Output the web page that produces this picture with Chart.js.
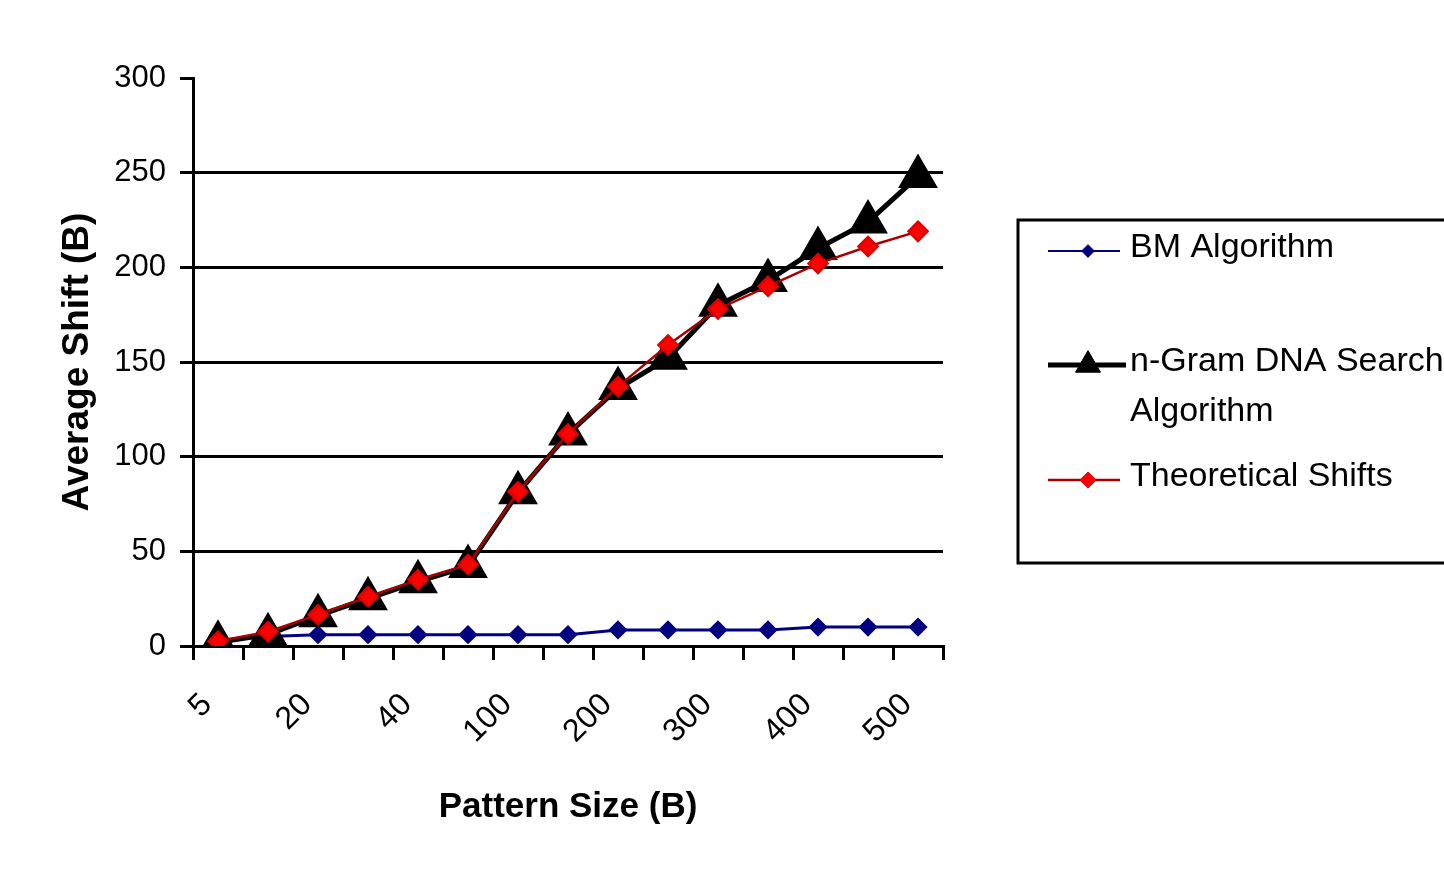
<!DOCTYPE html>
<html>
<head>
<meta charset="utf-8">
<script src="https://cdn.jsdelivr.net/npm/chart.js@4/dist/chart.umd.min.js"></script>
<style>
  html, body { margin: 0; padding: 0; background: #ffffff; }
  #wrap { position: relative; width: 1444px; height: 875px; }
</style>
</head>
<body>
<div id="wrap"><canvas id="c"></canvas></div>
<script>
// ---- data ----
const patternSizes = ['5', '10', '20', '30', '40', '50', '100', '150', '200', '250', '300', '350', '400', '450', '500'];
const bmAlgorithm = [3, 5, 6, 6, 6, 6, 6, 6, 8.5, 8.5, 8.5, 8.5, 10, 10, 10];
const nGramDNA = [2, 6, 16, 25, 34, 42, 81, 112, 136, 152, 180, 193, 210, 224, 248];
const theoreticalShifts = [2.5, 7.5, 16.5, 26, 35, 43, 81.5, 112, 137, 159, 178, 190, 202, 211, 219];
const seriesNames = ['BM Algorithm', 'n-Gram DNA Search Algorithm', 'Theoretical Shifts'];
const yTicks = [0, 50, 100, 150, 200, 250, 300];
const xTitle = 'Pattern Size (B)';
const yTitle = 'Average Shift (B)';

const FONT = '"Liberation Sans", Arial, sans-serif';

const boxLegend = {
  id: 'boxLegend',
  afterDraw(chart) {
    const { ctx, chartArea } = chart;
    const left = chartArea.right + 75;
    const top = chartArea.top + 142;
    const h = 343;
    const rows = [31, 145, 260];
    const lineWidths = [2, 5, 2.5];
    ctx.save();
    ctx.lineWidth = 3;
    ctx.strokeStyle = '#000';
    ctx.strokeRect(left, top, chart.width - left + 20, h);
    ctx.font = '34px ' + FONT;
    ctx.textBaseline = 'middle';
    ctx.textAlign = 'left';
    chart.data.datasets.forEach((ds, i) => {
      const y = top + rows[i];
      ctx.strokeStyle = ds.borderColor;
      ctx.lineWidth = lineWidths[i];
      ctx.beginPath();
      ctx.moveTo(left + 30, y);
      ctx.lineTo(left + (i === 1 ? 108 : 102), y);
      ctx.stroke();
      ctx.fillStyle = ds.pointBackgroundColor;
      ctx.strokeStyle = ds.pointBorderColor;
      ctx.lineWidth = 1;
      Chart.helpers.drawPoint(ctx, { pointStyle: ds.pointStyle, radius: ds.pointRadius * (i === 1 ? 0.8 : 0.85), rotation: 0, borderWidth: 1 }, left + 70, y);
      // wrap label
      const words = ds.label.split(' ');
      const lines = [];
      let cur = '';
      words.forEach(w => {
        const t = cur ? cur + ' ' + w : w;
        if (ctx.measureText(t).width > 330 && cur) { lines.push(cur); cur = w; } else { cur = t; }
      });
      lines.push(cur);
      ctx.fillStyle = '#000';
      lines.forEach((ln, k) => ctx.fillText(ln, left + 112, y - 3 + k * 50));
    });
    ctx.restore();
  }
};

new Chart(document.getElementById('c'), {
  type: 'line',
  data: {
    labels: patternSizes,
    datasets: [
      {
        label: seriesNames[0],
        data: bmAlgorithm,
        borderColor: '#000080',
        backgroundColor: '#000080',
        pointBackgroundColor: '#000080',
        pointBorderColor: '#000080',
        borderWidth: 3,
        pointStyle: 'rectRot',
        pointRadius: 7.5,
        tension: 0,
        order: 3
      },
      {
        label: seriesNames[1],
        data: nGramDNA,
        borderColor: '#000000',
        backgroundColor: '#000000',
        pointBackgroundColor: '#000000',
        pointBorderColor: '#000000',
        borderWidth: 5,
        pointStyle: 'triangle',
        pointRadius: 18,
        tension: 0,
        order: 2
      },
      {
        label: seriesNames[2],
        data: theoreticalShifts,
        borderColor: '#A80000',
        backgroundColor: '#FF0000',
        pointBackgroundColor: '#FF0000',
        pointBorderColor: '#E00000',
        borderWidth: 2.5,
        pointStyle: 'rectRot',
        pointRadius: 9.5,
        tension: 0,
        order: 1
      }
    ]
  },
  options: {
    responsive: true,
    maintainAspectRatio: false,
    animation: false,
    layout: { padding: { left: 0, top: 78, right: 501, bottom: 0 } },
    plugins: {
      legend: { display: false },
      tooltip: { enabled: false }
    },
    scales: {
      x: {
        type: 'category',
        offset: true,
        grid: {
          display: true,
          offset: true,
          drawOnChartArea: false,
          drawTicks: true,
          tickLength: 14,
          tickWidth: 3,
          tickColor: '#000',
          lineWidth: 3,
          color: '#000'
        },
        border: { display: true, color: '#000', width: 3 },
        ticks: {
          autoSkip: false,
          minRotation: 45,
          maxRotation: 45,
          padding: 26,
          labelOffset: -11,
          color: '#000',
          font: { family: FONT, size: 32 },
          callback: function (v, i) { return i % 2 === 0 ? patternSizes[i] : ''; }
        },
        title: {
          display: true,
          text: xTitle,
          color: '#000',
          font: { family: FONT, size: 35, weight: 'bold' },
          padding: { top: 0, bottom: 47 }
        },
        afterFit: function (s) { s.height = 229; }
      },
      y: {
        min: 0,
        max: 300,
        afterBuildTicks: function (s) { s.ticks = yTicks.map(v => ({ value: v })); },
        grid: {
          color: function (ctx) { return ctx.tick && ctx.tick.value === 300 ? 'rgba(0,0,0,0)' : '#000'; },
          lineWidth: 3,
          drawTicks: true,
          tickLength: 13,
          tickColor: '#000',
          tickWidth: 3
        },
        border: { display: true, color: '#000', width: 3 },
        ticks: {
          padding: 14,
          color: '#000',
          font: { family: FONT, size: 31 }
        },
        title: {
          display: true,
          text: yTitle,
          color: '#000',
          font: { family: FONT, size: 37, weight: 'bold' },
          padding: { top: 56, bottom: 0 }
        },
        afterFit: function (s) { s.width = 193; }
      }
    }
  },
  plugins: [boxLegend]
});
</script>
</body>
</html>
